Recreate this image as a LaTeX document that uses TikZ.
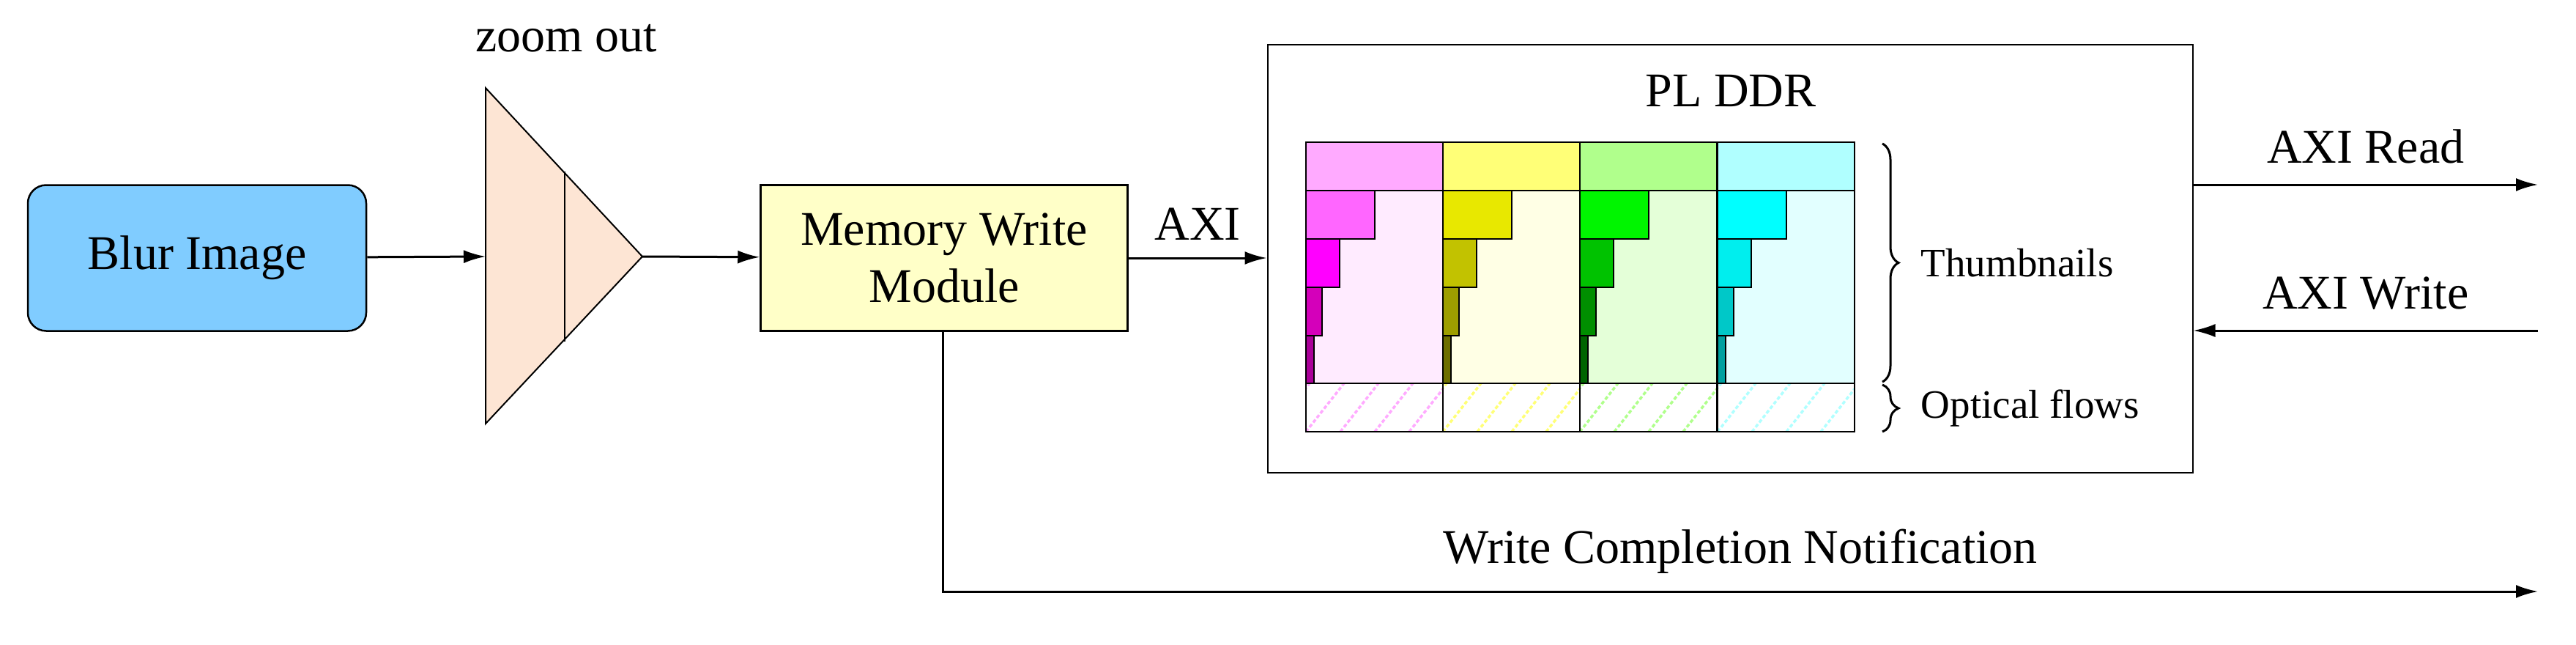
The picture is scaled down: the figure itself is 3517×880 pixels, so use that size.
\documentclass[tikz,border=0pt]{standalone}
\usepackage{fontspec}
\setmainfont{Liberation Serif}
\usetikzlibrary{decorations.pathreplacing,patterns,arrows.meta}
\begin{document}
\begin{tikzpicture}[x=1pt,y=-1pt,
  conn/.style={line width=3pt,-{Latex[length=30pt,width=18pt]}},
  lbl/.style={font=\fontsize{66}{78}\selectfont},
  slbl/.style={font=\fontsize{55}{66}\selectfont},
  cell/.style={draw,line width=2pt},
  brc/.style={draw,line width=3pt,decorate,decoration={brace,amplitude=22pt}}]
\useasboundingbox (0,0) rectangle (3517,880);
% Blur image
\node[draw,line width=2.5pt,rounded corners=25pt,fill={rgb,255:red,128;green,204;blue,255},minimum width=462pt,minimum height=199pt,lbl] (blur) at (269,352) {Blur Image};
% zoom out triangle
\draw[fill={rgb,255:red,253;green,229;blue,212},line width=2pt] (663,120) -- (877,350) -- (663,578) -- cycle;
\draw[line width=2pt] (771,234) -- (771,466);
\coordinate (zin) at (663,350);
\coordinate (zout) at (877,350);
\node[lbl] (zlab) at (773,52) {zoom out};
% memory write
\node[draw,line width=2.5pt,fill={rgb,255:red,255;green,255;blue,200},minimum width=501pt,minimum height=199pt,align=center,lbl] (mem) at (1289,352) {Memory Write\\Module};
\draw[conn] (blur) -- (zin);
\draw[conn] (zout) -- (mem);
% PL DDR
\node[draw,line width=2pt,minimum width=1263pt,minimum height=584pt] (ddr) at (2362,353) {};
\node[lbl] (ddrl) at (2363,124) {PL DDR};
\draw[conn] (mem) -- (ddr.west |- mem) node[midway,above=20pt,lbl] {AXI};
% grid
\foreach \x/\top/\main/\a/\b/\c/\d in {
  1783/FFAAFF/FFEBFF/FF66FF/FF00FF/D400BA/AA0099,
  1970/FFFF77/FFFFE5/E8E800/C2C200/9E9E00/6E6E00,
  2157/B0FF8C/E4FFD8/00F500/00C200/008E00/006400,
  2345/B0FFFF/E2FFFF/00FFFF/00EEEE/00C8C8/00A0A0}{
  \definecolor{ctop}{HTML}{\top}\definecolor{cbody}{HTML}{\main}
  \definecolor{ca}{HTML}{\a}\definecolor{cb}{HTML}{\b}\definecolor{cc}{HTML}{\c}\definecolor{cd}{HTML}{\d}
  \draw[cell,fill=ctop] (\x,194) rectangle ++(187,66);
  \draw[cell,fill=cbody] (\x,260) rectangle ++(187,263);
  \draw[cell,fill=ca] (\x,260) rectangle ++(94,66);
  \draw[cell,fill=cb] (\x,326) rectangle ++(46,66);
  \draw[cell,fill=cc] (\x,392) rectangle ++(22,66);
  \draw[cell,fill=cd] (\x,458) rectangle ++(11,65);
  \begin{scope}
    \clip (\x,523) rectangle ++(187,66);
    \foreach \k in {-2,...,4}{
      \draw[ctop,line width=3.5pt,dash pattern=on 5pt off 3pt] (\x+\k*47,589) -- ++(52,-66);
    }
  \end{scope}
  \draw[cell] (\x,523) rectangle ++(187,66);
}
\draw[brc] (2570,196) -- (2570,521) node[midway,right=48pt,slbl] (thumb) {Thumbnails};
\draw[brc] (2570,525) -- (2570,589) node[midway,right=48pt,slbl] (opt) {Optical flows};
% AXI read/write
\coordinate (rd) at (3465,252);
\coordinate (wr) at (3465,451);
\draw[conn] (ddr.east |- rd) -- (rd) node[midway,above=24pt,lbl] {AXI Read};
\draw[conn] (wr) -- (ddr.east |- wr) node[midway,above=24pt,lbl] {AXI Write};
% notification
\coordinate (nt) at (3465,807);
\draw[conn] (mem.south -| 1287,0) -- (1287,807) -- (nt) node[pos=0.5,above=20pt,lbl] {Write Completion Notification};
\end{tikzpicture}
\end{document}
